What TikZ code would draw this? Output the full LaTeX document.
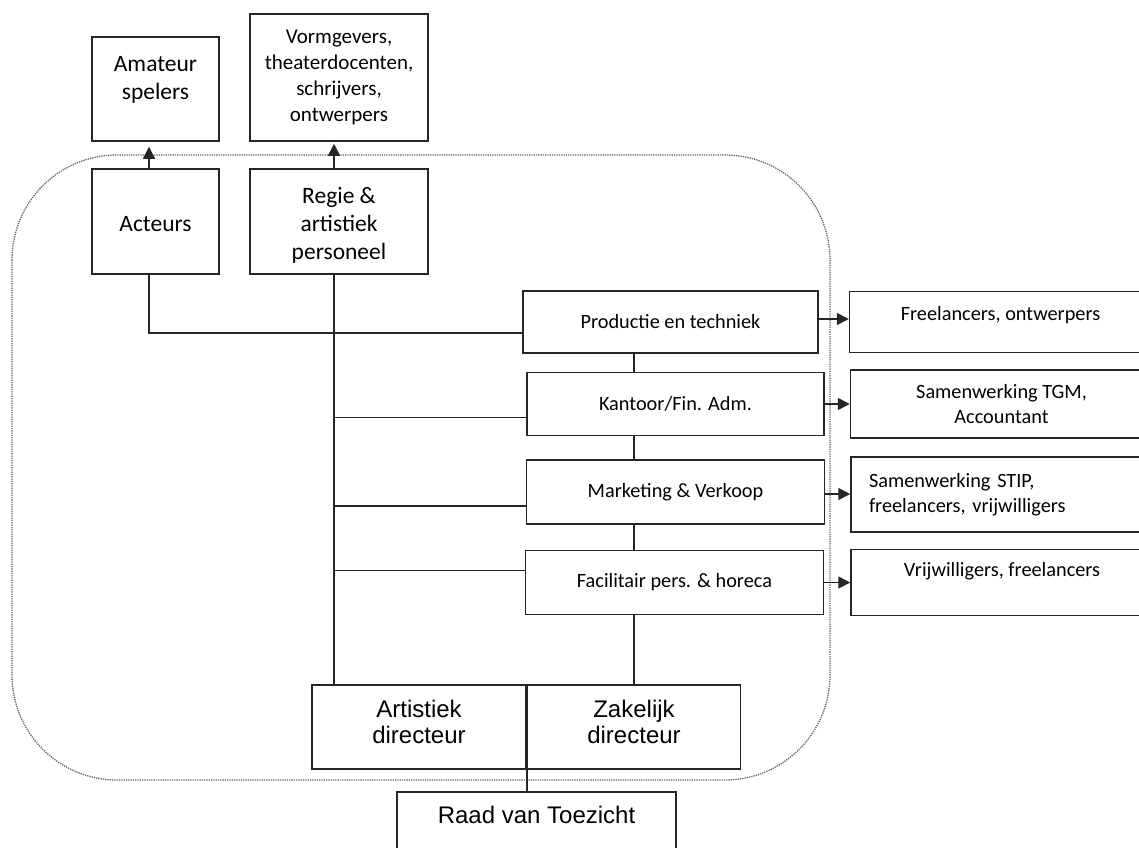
\documentclass[tikz,border=0pt]{standalone}
\usepackage{fontspec}
\setmainfont{Carlito}
\newfontfamily\arialfont{Liberation Sans}
\usetikzlibrary{arrows.meta,positioning}

\tikzset{
  box/.style={draw=black!85, line width=1.5pt, inner sep=0pt, align=center},
  topbox/.style={box, font=\fontsize{23.5}{28}\selectfont},
  unitbox/.style={box, font=\fontsize{20.3}{25}\selectfont},
  extbox/.style={box, minimum width=302pt, font=\fontsize{20.3}{25}\selectfont},
  dirbox/.style={box, font=\arialfont\fontsize{24}{26.5}\selectfont},
  txt/.style={inner sep=0pt, align=center},
  link/.style={draw=black!85, line width=1.5pt},
  orgline/.style={draw=black!60, densely dotted, line width=1.3pt, rounded corners=105pt}
}
% invisible struts to nudge text inside a box
\newcommand{\padtop}[1]{\rule{0pt}{#1}}
\newcommand{\padbot}[1]{\rule[-#1]{0pt}{#1}}

\begin{document}
\begin{tikzpicture}[x=1pt,y=-1pt,>={Triangle[length=12pt,width=12pt]}]
\useasboundingbox (0,0) rectangle (1139,847);
\clip (0,0) rectangle (1139,847);

% dotted outline of the company
\path[orgline] (12,155) rectangle (830,780);

% artistic side
\node[topbox, minimum width=127pt, minimum height=104pt] (ama) at (155.5,89) {};
\node[txt, font=\fontsize{23.5}{28}\selectfont, below=19.5pt of ama.north] (amatxt) {Amateur\\spelers};
\node[box, font=\fontsize{21}{26}\selectfont, minimum width=178pt, minimum height=127pt] (vorm) at (339,77.5) {Vormgevers,\\theaterdocenten,\\schrijvers,\\ontwerpers};
\node[topbox, minimum width=127pt, minimum height=105pt] (act) at (155.5,221.5) {\padtop{21pt}Acteurs};
\node[topbox, minimum width=178pt, minimum height=105pt] (regie) at (339,221.5) {\padtop{24pt}Regie \&\\artistiek\\personeel};

% departments
\node[unitbox, minimum width=295pt, minimum height=62pt] (prod) at (670.5,322) {Productie en techniek};
\node[unitbox, minimum width=297pt, minimum height=63pt, below=18pt of prod, xshift=5pt] (kant) {Kantoor/Fin. Adm.};
\node[unitbox, minimum width=298pt, minimum height=64pt, below=23pt of kant] (mark) {Marketing \& Verkoop};
\node[unitbox, minimum width=298pt, minimum height=64pt, below=25pt of mark, xshift=-1pt] (faci) {Facilitair pers. \& horeca};

% outside help
\node[extbox, minimum height=61pt, right=30pt of prod] (free) {};
\node[txt, font=\fontsize{20.3}{25}\selectfont, below=15.5pt of free.north] (freetxt) {Freelancers, ontwerpers};
\node[extbox, minimum height=68pt, right=25pt of kant] (tgm) {Samenwerking TGM,\\Accountant};
\node[extbox, minimum height=75pt, right=25pt of mark, yshift=-2.5pt, align=left, text width=266pt, inner xsep=18pt] (stip) {Samenwerking STIP,\\freelancers, vrijwilligers};
\node[extbox, minimum height=66pt, right=26pt of faci] (vrij) {};
\node[txt, font=\fontsize{20.3}{25}\selectfont, below=13pt of vrij.north] (vrijtxt) {Vrijwilligers, freelancers};

% management
\node[dirbox, minimum width=214pt, minimum height=84pt] (art) at (419,727) {Artistiek\\directeur\padbot{10pt}};
\node[dirbox, minimum width=213pt, minimum height=84pt, right=0pt of art] (zak) {Zakelijk\\directeur\padbot{10pt}};
\node[dirbox, minimum width=279pt, minimum height=70pt] (raad) at (536.5,827) {};
\node[txt, font=\arialfont\fontsize{24}{26.5}\selectfont, below=15pt of raad.north] (raadtxt) {Raad van Toezicht};

% connections
\coordinate (actfoot) at ([xshift=-6.5pt]act.south);
\coordinate (spine) at ([xshift=-5pt]regie.south);
\coordinate (kantin) at ([yshift=-13.5pt]kant.west);
\coordinate (markin) at ([yshift=-14pt]mark.west);
\coordinate (faciin) at ([yshift=12pt]faci.west);

\draw[link,->,shorten >=5pt] ([xshift=-6.5pt]act.north) -- ([xshift=-6.5pt]act.north |- ama.south);
\draw[link,->,shorten >=2pt] ([xshift=-5pt]regie.north) -- ([xshift=-5pt]regie.north |- vorm.south);
\draw[link] (actfoot) |- ([yshift=-11pt]prod.west);
\draw[link] (spine) -- (spine |- art.north);
\draw[link] (kantin) -- (spine |- kantin);
\draw[link] (markin) -- (spine |- markin);
\draw[link] (faciin) -- (spine |- faciin);

\draw[link] (prod.south -| zak.north) -- (kant.north -| zak.north);
\draw[link] (kant.south -| zak.north) -- (mark.north -| zak.north);
\draw[link] (mark.south -| zak.north) -- (faci.north -| zak.north);
\draw[link] (faci.south -| zak.north) -- (zak.north);
\draw[link] (art.south east) -- (art.south east |- raad.north);

\draw[link,->] ([yshift=3pt]prod.east) -- ([yshift=3pt]prod.east -| free.west);
\draw[link,->] (kant.east) -- (kant.east -| tgm.west);
\draw[link,->] ([yshift=-2pt]mark.east) -- ([yshift=-2pt]mark.east -| stip.west);
\draw[link,->] (faci.east) -- (faci.east -| vrij.west);
\end{tikzpicture}
\end{document}
